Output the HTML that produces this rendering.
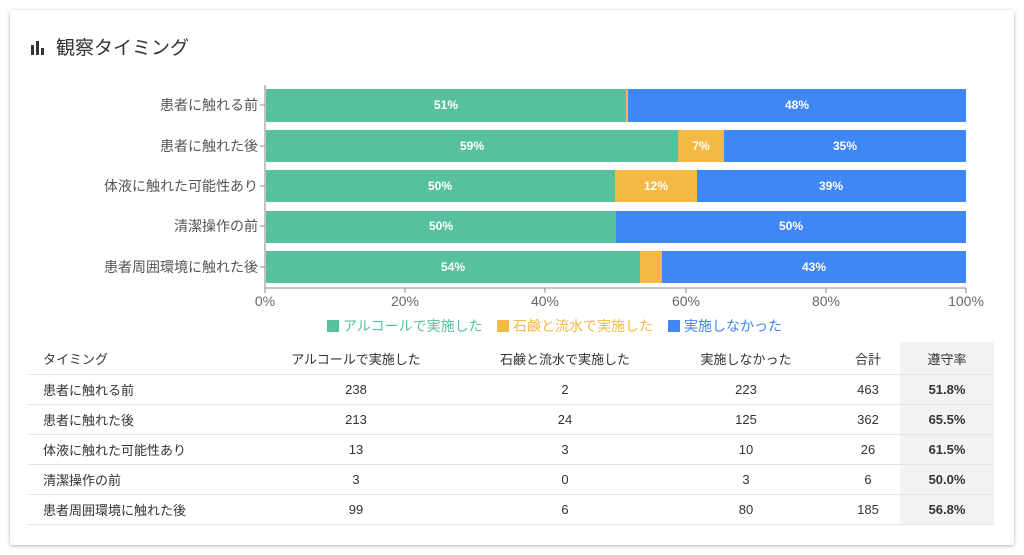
<!DOCTYPE html>
<html><head><meta charset="utf-8"><style>
body{margin:0;background:#fff;width:1024px;height:555px;overflow:hidden;font-family:"Liberation Sans","Noto Sans CJK JP",sans-serif;}
.card{position:absolute;left:10px;top:10px;width:1004px;height:535px;background:#fff;box-shadow:0 1px 4px rgba(0,0,0,.3);border-radius:3px;}
.title{position:absolute;left:30px;top:33px;font-size:19px;color:#333;}
svg{position:absolute;left:0;top:0}
table{position:absolute;left:28px;top:342px;width:966px;border-collapse:collapse;font-size:13px;color:#333;table-layout:fixed;}
td,th{height:29px;padding:0;text-align:center;font-weight:normal;border-bottom:1px solid #e4e4e4;}
th{height:32px;}
td:first-child,th:first-child{text-align:left;padding-left:15px;}
.g{background:#f3f3f3;font-weight:bold;}
</style></head><body>
<div class="card"></div>
<div class="title"><svg width="16" height="16" style="position:relative;top:2px;left:0"><rect x="1" y="5" width="3" height="10" fill="#333"/><rect x="6" y="1" width="3" height="14" fill="#333"/><rect x="11" y="8" width="3" height="7" fill="#333"/></svg><span style="margin-left:10px">観察タイミング</span></div>
<svg width="1024" height="555" font-family="Liberation Sans, Noto Sans CJK JP, sans-serif">
<g font-size="14" fill="#555" text-anchor="end">
<text x="258" y="110">患者に触れる前</text>
<text x="258" y="151">患者に触れた後</text>
<text x="258" y="191">体液に触れた可能性あり</text>
<text x="258" y="231">清潔操作の前</text>
<text x="258" y="272">患者周囲環境に触れた後</text>
</g>
<g stroke="#888"><line x1="265" y1="85" x2="265" y2="288"/><line x1="265" y1="288" x2="966" y2="288"/>
<line x1="260" y1="105" x2="265" y2="105"/><line x1="260" y1="146" x2="265" y2="146"/><line x1="260" y1="186" x2="265" y2="186"/><line x1="260" y1="226" x2="265" y2="226"/><line x1="260" y1="267" x2="265" y2="267"/>
<line x1="405" y1="288" x2="405" y2="293"/><line x1="545" y1="288" x2="545" y2="293"/><line x1="686" y1="288" x2="686" y2="293"/><line x1="826" y1="288" x2="826" y2="293"/><line x1="966" y1="288" x2="966" y2="293"/><line x1="265" y1="288" x2="265" y2="293"/></g>
<g>
<rect x="266" y="89" width="360" height="33" fill="#57c19e"/><rect x="626" y="89" width="2" height="33" fill="#f4b944"/><rect x="628" y="89" width="338" height="33" fill="#3f87f5"/>
<rect x="266" y="130" width="412" height="32" fill="#57c19e"/><rect x="678" y="130" width="46" height="32" fill="#f4b944"/><rect x="724" y="130" width="242" height="32" fill="#3f87f5"/>
<rect x="266" y="170" width="349" height="32" fill="#57c19e"/><rect x="615" y="170" width="82" height="32" fill="#f4b944"/><rect x="697" y="170" width="269" height="32" fill="#3f87f5"/>
<rect x="266" y="211" width="350" height="32" fill="#57c19e"/><rect x="616" y="211" width="350" height="32" fill="#3f87f5"/>
<rect x="266" y="251" width="374" height="32" fill="#57c19e"/><rect x="640" y="251" width="22" height="32" fill="#f4b944"/><rect x="662" y="251" width="304" height="32" fill="#3f87f5"/>
</g>
<g font-size="12" font-weight="bold" fill="#fff" text-anchor="middle">
<text x="446" y="109">51%</text><text x="797" y="109">48%</text>
<text x="472" y="150">59%</text><text x="701" y="150">7%</text><text x="845" y="150">35%</text>
<text x="440" y="190">50%</text><text x="656" y="190">12%</text><text x="831" y="190">39%</text>
<text x="441" y="230">50%</text><text x="791" y="230">50%</text>
<text x="453" y="271">54%</text><text x="814" y="271">43%</text>
</g>
<g font-size="14" fill="#666" text-anchor="middle">
<text x="265" y="306">0%</text><text x="405" y="306">20%</text><text x="545" y="306">40%</text><text x="686" y="306">60%</text><text x="826" y="306">80%</text><text x="966" y="306">100%</text>
</g>
<g font-size="14">
<rect x="327" y="320" width="12" height="12" fill="#57c19e"/><text x="343" y="331" fill="#57c19e">アルコールで実施した</text>
<rect x="497" y="320" width="12" height="12" fill="#f4b944"/><text x="513" y="331" fill="#f4b944">石鹸と流水で実施した</text>
<rect x="668" y="320" width="12" height="12" fill="#3f87f5"/><text x="684" y="331" fill="#3f87f5">実施しなかった</text>
</g>
</svg>
<table>
<colgroup><col style="width:210px"><col style="width:236px"><col style="width:182px"><col style="width:180px"><col style="width:64px"><col style="width:94px"></colgroup>
<tr><th>タイミング</th><th>アルコールで実施した</th><th>石鹸と流水で実施した</th><th>実施しなかった</th><th>合計</th><th class="g" style="font-weight:normal">遵守率</th></tr>
<tr><td>患者に触れる前</td><td>238</td><td>2</td><td>223</td><td>463</td><td class="g">51.8%</td></tr>
<tr><td>患者に触れた後</td><td>213</td><td>24</td><td>125</td><td>362</td><td class="g">65.5%</td></tr>
<tr><td>体液に触れた可能性あり</td><td>13</td><td>3</td><td>10</td><td>26</td><td class="g">61.5%</td></tr>
<tr><td>清潔操作の前</td><td>3</td><td>0</td><td>3</td><td>6</td><td class="g">50.0%</td></tr>
<tr><td>患者周囲環境に触れた後</td><td>99</td><td>6</td><td>80</td><td>185</td><td class="g">56.8%</td></tr>
</table>
</body></html>
